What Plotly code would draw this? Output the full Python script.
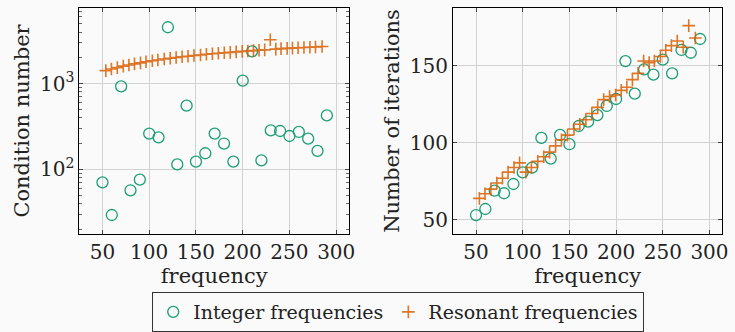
import plotly.graph_objects as go

# Integer frequencies
int_freq = [50, 60, 70, 80, 90, 100, 110, 120, 130, 140, 150, 160, 170, 180, 190,
            200, 210, 220, 230, 240, 250, 260, 270, 280, 290]
int_cond = [70.5, 29.3, 931, 56.9, 75.7, 261, 236, 4550, 114, 553, 123, 154, 261, 200, 123,
            1084, 2383, 127, 285, 280, 245, 273, 228, 164, 426]
int_iter = [53.2, 57.1, 69.0, 67.3, 73.3, 80.9, 83.9, 103.2, 89.8, 105.1, 99.1, 110.9, 113.7, 118.0, 123.9,
            128.4, 153.0, 131.9, 147.6, 144.2, 153.9, 145.0, 160.2, 158.4, 167.3]

# Resonant frequencies
res_freq = [53.6, 59.6, 65.9, 72.3, 78.3, 84.3, 90.7, 96.6, 103.4, 109.3, 116.1, 122.5, 128.8,
            135.2, 141.5, 147.9, 154.9, 161.2, 167.6, 174.0, 180.3, 186.7, 193.0, 199.5, 205.5,
            211.5, 217.5, 223.5, 229.5, 235.4, 241.0, 247.5, 253.2, 259.2, 265.5, 271.9, 277.8, 284.9]
res_cond = [1420, 1480, 1540, 1600, 1650, 1700, 1750, 1800, 1850, 1890, 1940, 1980, 2020,
            2060, 2090, 2130, 2160, 2200, 2230, 2260, 2290, 2320, 2350, 2380, 2400,
            2430, 2450, 2480, 3250, 2530, 2560, 2580, 2600, 2620, 2640, 2660, 2680, 2710]
res_iter = [64, 67, 70, 74, 77, 81, 84, 87, 81, 84, 88, 91, 94,
            98, 102, 105, 109, 112, 115, 119, 123, 128, 130, 131, 134,
            136, 141, 145, 153, 152, 153, 156, 160, 163, 166, 162, 176, 168]

x_ticks = [50, 100, 150, 200, 250, 300]
cond_ticks = [100, 1000]
cond_ticktext = ["10<sup>2</sup>", "10<sup>3</sup>"]
cond_minor = [20, 30, 40, 50, 60, 70, 80, 90, 200, 300, 400, 500, 600, 700, 800, 900,
              2000, 3000, 4000, 5000, 6000, 7000]
iter_ticks = [50, 100, 150]

GREEN = "#1b9e77"
ORANGE = "#d95f02"
FONT = "DejaVu Serif"
W, H = 735, 332

fig = go.Figure()
circ = dict(symbol="circle-open", size=11, color=GREEN, line=dict(width=1.3, color=GREEN))
plus = dict(symbol="cross-thin-open", size=9, color=ORANGE, line=dict(width=1.6, color=ORANGE))

fig.add_trace(go.Scatter(x=int_freq, y=int_cond, mode="markers", marker=circ,
                         name="Integer frequencies", xaxis="x", yaxis="y"))
fig.add_trace(go.Scatter(x=res_freq, y=res_cond, mode="markers", marker=plus, opacity=0.85,
                         name="Resonant frequencies", xaxis="x", yaxis="y"))
fig.add_trace(go.Scatter(x=int_freq, y=int_iter, mode="markers", marker=circ,
                         showlegend=False, xaxis="x2", yaxis="y2"))
fig.add_trace(go.Scatter(x=res_freq, y=res_iter, mode="markers", marker=plus, opacity=0.85,
                         showlegend=False, xaxis="x2", yaxis="y2"))

ydom = [1 - 234 / H, 1 - 8 / H]
common = dict(showline=True, linecolor="black", linewidth=1, mirror="allticks",
              ticks="inside", ticklen=4, tickcolor="#444", gridcolor="#d2d2d2", gridwidth=1,
              zeroline=False, tickfont=dict(family=FONT, size=20, color="#222"))

fig.update_layout(
    width=W, height=H, margin=dict(l=0, r=0, t=0, b=0),
    paper_bgcolor="#fafafa", plot_bgcolor="#fafafa",
    font=dict(family=FONT, color="#222", size=20),
    xaxis=dict(domain=[80 / W, 352 / W], range=[25.3, 313.8], tickvals=x_ticks, ticklabelstandoff=0,
               title=dict(text="frequency", font=dict(family=FONT, size=21), standoff=5), anchor="y", **common),
    yaxis=dict(domain=ydom, type="log", range=[1.245, 3.883], tickvals=cond_ticks, ticktext=cond_ticktext,
               title=dict(text="Condition number", font=dict(family=FONT, size=21), standoff=4), anchor="x",
               minor=dict(tickvals=cond_minor, ticks="inside", ticklen=3, tickcolor="#666", showgrid=False),
               **common),
    xaxis2=dict(domain=[456.7 / W, 728.3 / W], range=[25.3, 313.8], tickvals=x_ticks, ticklabelstandoff=0,
                title=dict(text="frequency", font=dict(family=FONT, size=21), standoff=5), anchor="y2", **common),
    yaxis2=dict(domain=ydom, range=[40.9, 187.4], tickvals=iter_ticks,
                title=dict(text="Number of iterations", font=dict(family=FONT, size=21), standoff=4),
                anchor="x2", **common),
    legend=dict(orientation="h", x=401.5 / W, xanchor="center", y=0, yanchor="bottom",
                bordercolor="#333", borderwidth=1, bgcolor="#fafafa",
                font=dict(family=FONT, size=19, color="#222"), itemwidth=30,
                tracegroupgap=0),
)

fig.write_html("out.html")
